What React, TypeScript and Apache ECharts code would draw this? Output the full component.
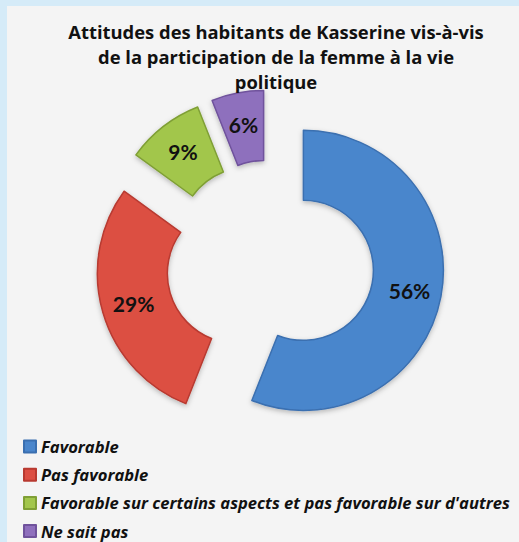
import React, { useEffect, useRef } from "react";
import * as echarts from "echarts";

const titleText = "Attitudes des habitants de Kasserine vis-à-vis\nde la participation de la femme à la vie\npolitique";
const categories = [
  "Favorable",
  "Pas favorable",
  "Favorable sur certains aspects et pas favorable sur d'autres",
  "Ne sait pas",
];
const values = [56, 29, 9, 6];
const colors = ["#4a86cc", "#dc4f43", "#a2c64c", "#8e6fbd"];
const edgeColors = ["#3a6fb0", "#b83a30", "#7f9f35", "#6f529c"];

export default function App() {
  const ref = useRef<HTMLDivElement>(null);
  useEffect(() => {
    if (!ref.current) return;
    const chart = echarts.init(ref.current, undefined, { renderer: "svg" });
    chart.setOption({
      animation: false,
      backgroundColor: "transparent",
      title: {
        text: titleText,
        left: 271,
        top: 14,
        textAlign: "center",
        textStyle: {
          fontFamily: "Open Sans",
          fontWeight: "bold",
          fontSize: 18.4,
          lineHeight: 25,
          color: "#111",
        },
      },
      legend: {
        orient: "vertical",
        left: 23,
        top: 438,
        height: 120,
        padding: 0,
        itemWidth: 12,
        itemHeight: 12,
        itemGap: 11.2,
        icon: "rect",
        data: categories,
        textStyle: {
          fontFamily: "Open Sans",
          fontWeight: "bold",
          fontStyle: "italic",
          fontSize: 16.6,
          lineHeight: 17,
          color: "#111",
        },
      },
      series: [
        {
          type: "pie",
          center: [270, 264],
          radius: [70, 140],
          startAngle: 90,
          clockwise: true,
          selectedMode: "multiple",
          selectedOffset: 34,
          emphasis: { disabled: true },
          label: {
            show: true,
            position: "inside",
            formatter: (p: any) => values[p.dataIndex] + "%",
            fontFamily: "Lato",
            fontWeight: "bold",
            fontSize: 21,
            color: "#111",
          },
          labelLine: { show: false },
          data: categories.map((name, i) => ({
            name,
            value: values[i],
            selected: true,
            itemStyle: {
              color: colors[i],
              borderColor: edgeColors[i],
              borderWidth: 1.5,
              shadowBlur: 5,
              shadowOffsetY: 2,
              shadowColor: "rgba(0,0,0,0.25)",
            },
          })),
        },
      ],
    });
    return () => chart.dispose();
  }, []);
  return (
    <div style={{ position: "fixed", left: 0, top: 0, width: 519, height: 542, background: "#d5ebf8" }}>
      <div style={{ position: "absolute", left: 7, top: 6, width: 512, height: 536, background: "#f4f4f4" }} />
      <div ref={ref} style={{ position: "absolute", left: 0, top: 0, width: 519, height: 542 }} />
    </div>
  );
}
